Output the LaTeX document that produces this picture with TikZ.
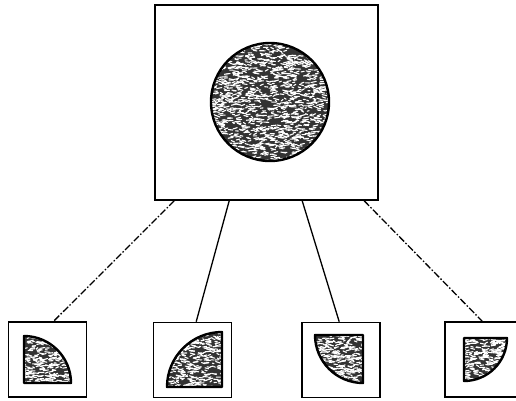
\documentclass[tikz,border=0pt]{standalone}
\usetikzlibrary{calc}
\newcommand\grainfill[4]{%
  \foreach \k in {1,...,#4}{%
    \pgfmathsetmacro\gx{#1+#3*rand}%
    \pgfmathsetmacro\gy{#2+#3*rand}%
    \pgfmathsetmacro\gl{1.5+4*rnd}%
    \pgfmathsetmacro\gd{1.6*rand}%
    \draw[white, line width=1.1pt, line cap=round] (\gx,\gy) -- ++(\gl,\gd);
  }}
\tikzset{
  frame/.style={draw=black, line width=1.6pt, inner sep=0pt, fill=white},
  bigframe/.style={frame, minimum width=223pt, minimum height=195pt},
  smallframe/.style={frame, minimum width=78pt, minimum height=75pt},
  link/.style={draw=black, line width=1.3pt},
  linkdash/.style={link, dash pattern=on 7pt off 2pt on 1.5pt off 2pt},
  blob/.style={draw=black, line width=2.4pt, line join=round},
}
\begin{document}
\begin{tikzpicture}[x=1pt, y=-1pt]
\useasboundingbox (0,0) rectangle (516,400);
\fill[white] (0,0) rectangle (516,400);
\clip (0,0) rectangle (516,400);
\pgfmathsetseed{12345}

% main frame
\node[bigframe] (main) at (266.5,102.5) {};

% small frames
\node[smallframe] (b1) at (47.5,359.5) {};
\node[smallframe] (b2) at (192.5,360) {};
\node[smallframe] (b3) at (341,360) {};
\node[smallframe] (b4) at (484,359.5) {};

% connector ends
\coordinate (m1) at ([xshift=20pt]main.south west);
\coordinate (m2) at ([xshift=75pt]main.south west);
\coordinate (m3) at ([xshift=148pt]main.south west);
\coordinate (m4) at ([xshift=210pt]main.south west);
\coordinate (t1) at ([xshift=46pt]b1.north west);
\coordinate (t2) at ([xshift=43.5pt]b2.north west);
\coordinate (t3) at ([xshift=38pt]b3.north west);
\coordinate (t4) at ([xshift=38pt]b4.north west);

\draw[linkdash] (m1) -- (t1);
\draw[link] (m2) -- (t2);
\draw[link] (m3) -- (t3);
\draw[linkdash] (m4) -- (t4);

% big disc
\begin{scope}
  \clip (270,102) circle[radius=59];
  \fill[black!80] (270,102) circle[radius=59];
  \grainfill{268}{102}{60}{1500}
\end{scope}
\draw[blob] (270,102) circle[radius=59];

% quarter 1
\begin{scope}
  \clip (24,383) -- (24,336) arc[start angle=-90, end angle=0, radius=47] -- cycle;
  \fill[black!80] (0,330) rectangle (80,390);
  \grainfill{46}{360}{26}{330}
\end{scope}
\draw[blob] (24,383) -- (24,336) arc[start angle=-90, end angle=0, radius=47] -- cycle;

% quarter 2
\begin{scope}
  \clip (222,387) -- (222,332) arc[start angle=-90, end angle=-180, radius=55] -- cycle;
  \fill[black!80] (160,325) rectangle (230,392);
  \grainfill{192}{360}{30}{420}
\end{scope}
\draw[blob] (222,387) -- (222,332) arc[start angle=-90, end angle=-180, radius=55] -- cycle;

% quarter 3
\begin{scope}
  \clip (363,335) -- (315,335) arc[start angle=180, end angle=90, radius=48] -- cycle;
  \fill[black!80] (310,330) rectangle (370,390);
  \grainfill{339}{358}{26}{330}
\end{scope}
\draw[blob] (363,335) -- (315,335) arc[start angle=180, end angle=90, radius=48] -- cycle;

% quarter 4
\begin{scope}
  \clip (464,338) -- (507,338) arc[start angle=0, end angle=90, radius=43] -- cycle;
  \fill[black!80] (458,332) rectangle (512,388);
  \grainfill{483}{358}{24}{290}
\end{scope}
\draw[blob] (464,338) -- (507,338) arc[start angle=0, end angle=90, radius=43] -- cycle;
\end{tikzpicture}
\end{document}
